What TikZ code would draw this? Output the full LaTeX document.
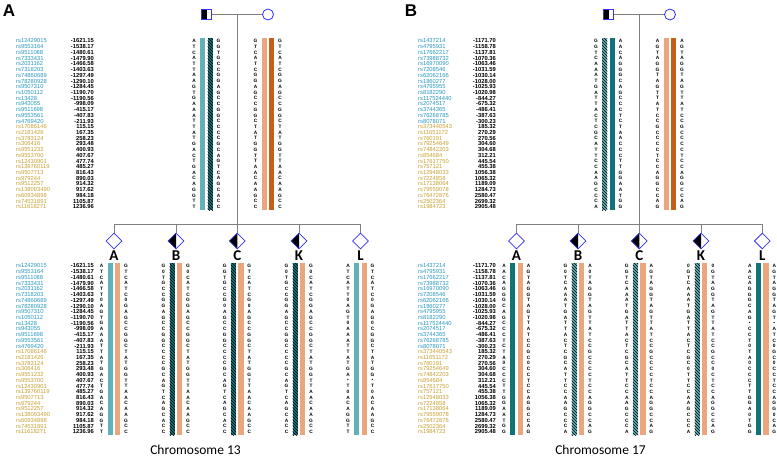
\documentclass[tikz,border=0pt]{standalone}
\usepackage{fontspec}
\setmainfont{Liberation Sans}
\newfontfamily\calib{Carlito}
\usetikzlibrary{shapes.geometric,patterns,calc}
\definecolor{tealL}{RGB}{98,177,184}
\definecolor{tealD}{RGB}{17,115,122}
\definecolor{orangeL}{RGB}{235,166,125}
\definecolor{orangeD}{RGB}{197,94,27}
\definecolor{pedblue}{RGB}{50,50,240}
\definecolor{pedgray}{RGB}{128,128,128}
\definecolor{snpblue}{RGB}{40,152,190}
\definecolor{snpgold}{RGB}{200,160,50}

\def\rowsep{5.72}
% SNP names and positions
\def\idsAblue{rs12429015,rs9553164,rs9511088,rs7333431,rs2031162,rs7318203,rs74860689,rs78280928,rs9507310,rs1050112,rs13428,rs943055,rs9511698,rs9553561,rs4769420}
\def\idsAgold{rs17086146,rs2181426,rs3783124,rs306416,rs9551232,rs9553700,rs12430901,rs139760119,rs9507713,rs979244,rs9512257,rs138093490,rs60934898,rs74531891,rs11618271}
\def\valsA{-1621.15,-1538.17,-1480.61,-1479.90,-1466.58,-1403.63,-1297.49,-1290.10,-1284.45,-1190.70,-1190.56,-998.09,-415.17,-407.83,-211.93,115.15,167.35,258.23,293.48,400.93,407.67,477.74,485.27,816.43,890.03,914.32,917.62,984.18,1105.87,1236.96}
\def\idsBblue{rs1437214,rs4795931,rs17662217,rs73988732,rs16970090,rs7208546,rs62062166,rs1860277,rs4795955,rs8182290,rs117524440,rs2074517,rs3744365,rs76268785,rs8078071}
\def\idsBgold{rs373440543,rs11651172,rs760191,rs79254649,rs74842203,rs854684,rs17617750,rs757121,rs12948033,rs7224858,rs17138064,rs79559078,rs76472876,rs2502364,rs1984723}
\def\valsB{-1171.70,-1158.78,-1137.81,-1070.36,-1063.46,-1031.59,-1030.14,-1028.00,-1025.93,-1020.98,-844.27,-675.32,-486.41,-387.63,-300.23,185.32,270.29,270.56,304.60,304.68,312.21,445.54,455.38,1056.38,1065.32,1189.09,1284.73,2580.47,2699.32,2905.48}

\newcommand\snplist[6]{%
  \foreach \s [count=\k from 0] in #4 {\node[snpid,text=snpblue] at (#1,{#2+\k*\rowsep}) {\s};}
  \foreach \s [count=\k from 15] in #5 {\node[snpid,text=snpgold] at (#1,{#2+\k*\rowsep}) {\s};}
  \foreach \v [count=\k from 0] in #6 {\node[snpval] at (#3,{#2+\k*\rowsep}) {\v};}}
\newcommand\seqcol[3]{%
  \foreach \b [count=\k from 0] in {#3} {\node[base] at (#1,{#2+\k*\rowsep}) {\b};}}
\newcommand\person[8]{%
  \path[#5] (#1-6.4,#2) rectangle ++(5.3,#3);
  \path[#6] (#1+1,#2) rectangle ++(5.3,#3);
  \seqcol{#1-12.5}{#4}{#7}
  \seqcol{#1+12}{#4}{#8}}

\begin{document}
\begin{tikzpicture}[
  x=1pt,y=-1pt,
  every node/.style={inner sep=0pt},
  ped/.style={draw=pedgray,line width=1pt},
  symb/.style={draw=pedblue,line width=0.8pt,fill=white,inner sep=0pt},
  halfsq/.style={symb,rectangle,minimum size=10.5pt,
    path picture={\fill[black] (path picture bounding box.south west) rectangle (path picture bounding box.north);}},
  female/.style={symb,circle,minimum size=11pt},
  sib/.style={symb,diamond,minimum size=16pt},
  halfsib/.style={sib,
    path picture={\fill[black] (path picture bounding box.north) -- (path picture bounding box.west) -- (path picture bounding box.south) -- cycle;}},
  base/.style={font=\bfseries\fontsize{4.8}{5}\selectfont},
  snpid/.style={anchor=west,font=\fontsize{5.8}{6}\selectfont},
  snpval/.style={anchor=east,font=\bfseries\fontsize{5.8}{6}\selectfont},
  kid/.style={font=\calib\bfseries\fontsize{15}{15}\selectfont},
  panel/.style={font=\bfseries\fontsize{17}{17}\selectfont},
  chrom/.style={font=\calib\fontsize{13.5}{13.5}\selectfont},
  lteal/.style={fill=tealL},
  dteal/.style={fill=tealD},
  lorange/.style={fill=orangeL},
  dorange/.style={fill=orangeD},
  hdteal/.style={fill=tealD,postaction={pattern=north west lines,pattern color=black}},
  hlteal/.style={fill=tealL,postaction={pattern=north west lines,pattern color=black}},
]
  \path[fill=white,use as bounding box] (0,0) rectangle (777,463);

  % Panel A: chromosome 13
  \node[panel] (pA) at (9,11) {A};
  \node[halfsq] (fa13) at (206.5,14.5) {};
  \node[female] (mo13) at (268,14.5) {};
  \draw[ped] (fa13) -- (mo13);
  \coordinate (mid13) at (237.25,14.5);
  \coordinate (sib13) at (237.25,224);
  \draw[ped] (mid13) -- (sib13);

  \snplist{16}{41}{94}{\idsAblue}{\idsAgold}{\valsA}
  \person{206.5}{38}{172}{41}{lteal}{hdteal}
    {A,T,C,A,T,T,A,A,G,T,G,A,A,A,T,T,A,T,G,A,C,T,G,A,C,A,G,G,T,T}
    {G,G,T,G,C,C,G,G,A,G,C,C,G,G,C,C,C,C,G,C,A,G,T,C,A,G,C,A,C,C}
  \person{268}{38}{172}{41}{lorange}{dorange}
    {G,T,C,A,T,C,G,G,A,G,C,C,G,G,C,T,A,T,G,G,T,T,A,A,C,A,A,G,C,C}
    {G,T,C,A,T,C,G,G,A,G,C,C,G,G,C,T,A,T,G,G,T,T,A,A,C,A,A,G,C,C}

  % Children chr13
  \node[sib] (c13A) at (114,241) {};
  \node[halfsib] (c13B) at (176,241) {};
  \node[halfsib] (c13C) at (237.25,241) {};
  \node[halfsib] (c13K) at (299,241) {};
  \node[sib] (c13L) at (360.5,241) {};
  \draw[ped] (c13A |- sib13) -- (c13L |- sib13);
  \foreach \c in {A,B,C,K,L} {
    \draw[ped] (c13\c) -- (c13\c |- sib13);
    \node[kid] (n13\c) at ($(c13\c)+(0,15)$) {\c};
  }

  \snplist{16}{266}{94}{\idsAblue}{\idsAgold}{\valsA}
  \person{114}{263}{172}{266}{lteal}{lorange}
    {A,T,C,A,T,T,0,A,G,T,G,A,A,A,T,T,A,T,G,A,C,T,G,A,C,A,G,G,T,T}
    {G,T,C,A,T,C,0,G,A,G,C,C,G,G,C,T,A,T,G,G,T,T,A,A,C,A,A,G,C,C}
  \person{176}{263}{172}{266}{hdteal}{lorange}
    {G,0,T,G,C,C,G,G,A,G,C,C,G,G,C,C,C,C,G,C,A,G,T,C,A,G,C,A,C,C}
    {G,0,C,A,T,C,G,G,A,G,C,C,G,G,C,T,A,T,G,G,T,T,A,A,C,A,A,G,C,C}
  \person{237.25}{263}{172}{266}{hdteal}{lorange}
    {G,G,T,G,C,C,G,0,A,G,C,C,G,G,C,C,C,C,G,C,A,G,T,C,A,G,C,A,C,C}
    {G,T,C,A,T,C,G,0,A,G,C,C,G,G,C,T,A,T,G,G,T,T,A,A,C,A,A,G,C,C}
  \person{299}{263}{172}{266}{hdteal}{lorange}
    {G,0,T,G,C,C,G,G,A,G,C,C,G,G,C,C,C,C,G,C,A,G,T,C,A,G,C,A,C,C}
    {G,0,C,A,T,C,G,G,A,G,C,C,G,G,C,T,A,T,G,G,T,T,A,A,C,A,A,G,C,C}
  \person{360.5}{263}{172}{266}{lteal}{lorange}
    {A,T,C,A,T,T,0,A,G,T,0,A,A,A,T,T,A,T,G,A,\textbullet,T,0,A,C,A,G,G,T,T}
    {G,T,C,A,T,C,0,G,A,G,0,C,G,G,C,T,A,T,G,G,\textbullet,T,0,A,C,A,A,G,C,C}
  \node[chrom] (t13) at (195.5,449.5) {Chromosome 13};

  % Panel B: chromosome 17
  \node[panel] (pB) at (411,11) {B};
  \node[halfsq] (fa17) at (608.5,14.5) {};
  \node[female] (mo17) at (670,14.5) {};
  \draw[ped] (fa17) -- (mo17);
  \coordinate (mid17) at (639.25,14.5);
  \coordinate (sib17) at (639.25,224);
  \draw[ped] (mid17) -- (sib17);

  \snplist{418}{41}{496}{\idsBblue}{\idsBgold}{\valsB}
  \person{608.5}{38}{172}{41}{hlteal}{dteal}
    {G,G,T,C,A,A,A,T,G,A,T,T,A,C,T,C,G,C,A,T,T,C,C,A,A,G,C,C,C,A}
    {A,A,C,A,G,G,G,C,A,G,C,C,C,T,C,T,A,A,C,C,C,T,T,G,G,A,A,T,G,G}
  \person{670}{38}{172}{41}{lorange}{dorange}
    {A,G,T,A,G,G,T,A,G,T,T,A,T,C,C,G,C,C,C,C,T,C,C,A,G,G,C,C,A,G}
    {A,G,T,A,G,G,T,A,G,T,T,A,T,C,C,G,C,C,C,C,T,C,C,A,G,G,C,C,A,G}

  % Children chr17
  \node[sib] (c17A) at (516.5,241) {};
  \node[halfsib] (c17B) at (578,241) {};
  \node[halfsib] (c17C) at (639.25,241) {};
  \node[halfsib] (c17K) at (701,241) {};
  \node[sib] (c17L) at (762.3,241) {};
  \draw[ped] (c17A |- sib17) -- (c17L |- sib17);
  \foreach \c in {A,B,C,K,L} {
    \draw[ped] (c17\c) -- (c17\c |- sib17);
    \node[kid] (n17\c) at ($(c17\c)+(0,15)$) {\c};
  }

  \snplist{418}{266}{496}{\idsBblue}{\idsBgold}{\valsB}
  \person{516.5}{263}{172}{266}{dteal}{lorange}
    {A,A,C,A,G,G,G,C,A,G,C,C,C,T,C,T,A,0,C,C,C,T,T,G,G,A,A,T,G,G}
    {A,G,T,A,G,G,T,A,G,T,T,A,T,C,C,G,C,0,C,C,T,C,C,A,G,G,C,C,A,G}
  \person{578}{263}{172}{266}{hlteal}{lorange}
    {G,0,T,C,A,A,A,T,G,A,T,T,A,C,T,C,G,C,A,T,T,C,C,A,A,G,C,C,C,A}
    {A,0,T,A,G,G,T,A,G,T,T,A,T,C,C,G,C,C,C,C,T,C,C,A,G,G,C,C,A,G}
  \person{639.25}{263}{172}{266}{hlteal}{lorange}
    {G,G,T,C,A,A,A,T,G,A,T,T,A,C,T,C,G,C,A,T,T,C,C,A,A,G,C,C,C,A}
    {A,G,T,A,G,G,T,A,G,T,T,A,T,C,C,G,C,C,C,C,T,C,C,A,G,G,C,C,A,G}
  \person{701}{263}{172}{266}{hlteal}{lorange}
    {0,G,T,C,A,A,A,T,G,A,T,T,A,C,T,C,G,C,0,T,T,C,C,A,A,G,C,C,C,A}
    {0,G,T,A,G,G,T,A,G,T,T,A,T,C,C,G,C,C,0,C,T,C,C,A,G,G,C,C,A,G}
  \person{762.3}{263}{172}{266}{dteal}{lorange}
    {A,A,C,A,G,G,G,C,A,G,\textbullet,C,C,T,0,T,A,0,C,C,C,T,T,G,G,A,0,T,G,G}
    {A,G,T,A,G,G,T,A,G,T,\textbullet,A,T,C,0,G,C,0,C,C,T,C,C,A,G,G,0,C,A,G}
  \node[chrom] (t17) at (600.5,449.5) {Chromosome 17};
\end{tikzpicture}
\end{document}
